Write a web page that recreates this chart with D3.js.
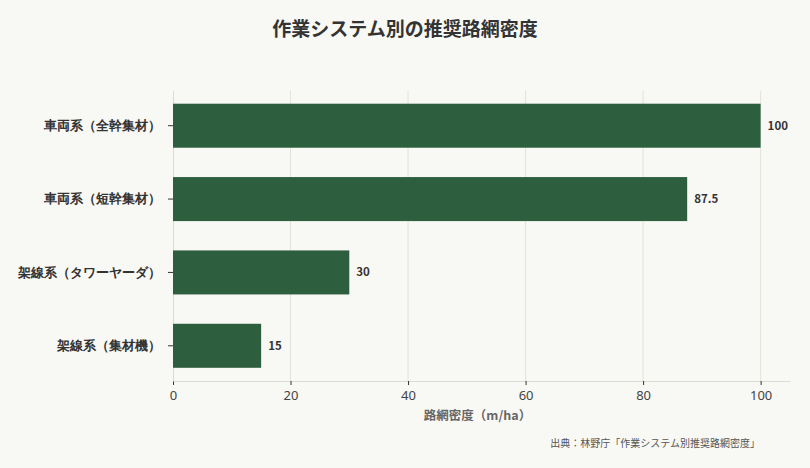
<!DOCTYPE html>
<html>
<head>
<meta charset="utf-8">
<script src="https://cdn.jsdelivr.net/npm/d3@7"></script>
<style>
  body { margin: 0; background: #f8f8f4; }
  svg { display: block; font-family: "Noto Sans CJK JP", "Noto Sans", sans-serif; }
</style>
</head>
<body>
<svg id="chart"></svg>
<script>
const categories = ['車両系（全幹集材）', '車両系（短幹集材）', '架線系（タワーヤーダ）', '架線系（集材機）']
const density = [100, 87.5, 30, 15]
const xTicks = [0, 20, 40, 60, 80, 100]

const width = 810, height = 468
const margin = {top: 90.5, right: 20, bottom: 87, left: 173}
const innerW = width - margin.left - margin.right
const innerH = height - margin.top - margin.bottom

const data = categories.map((c, i) => ({name: c, value: density[i]}))

const svg = d3.select('#chart')
  .attr('width', width)
  .attr('height', height)

svg.append('rect')
  .attr('width', width).attr('height', height)
  .attr('fill', '#f8f8f4')

const chart = svg.append('g')
  .attr('transform', `translate(${margin.left},${margin.top})`)

const xscale = d3.scaleLinear().domain([0, 105]).range([0, innerW])
const yscale = d3.scaleBand().domain(categories).range([0, innerH])
  .paddingInner(0.4).paddingOuter(0.18)

// グリッド
chart.append('g')
  .selectAll('line').data(xTicks.slice(1)).enter()
  .append('line')
  .attr('x1', d => xscale(d)).attr('x2', d => xscale(d))
  .attr('y1', 0).attr('y2', innerH)
  .attr('stroke', '#e2e2dc').attr('stroke-width', 1)

// x軸
const xaxis = chart.append('g')
  .attr('transform', `translate(0,${innerH})`)
  .call(d3.axisBottom(xscale).tickValues(xTicks).tickSize(4).tickSizeOuter(0))
xaxis.select('.domain').attr('stroke', '#dcdcd6')
xaxis.selectAll('.tick line').attr('stroke', '#333')
xaxis.selectAll('.tick text')
  .attr('font-size', 13).attr('fill', '#444').attr('dy', '0.95em')
  .style('font-family', '"Noto Sans", sans-serif')

// y軸
const yaxis = chart.append('g')
  .call(d3.axisLeft(yscale).tickSize(5).tickSizeOuter(0).tickPadding(7))
yaxis.select('.domain').attr('stroke', '#dcdcd6')
yaxis.selectAll('.tick line').attr('stroke', '#333')
yaxis.selectAll('.tick text')
  .attr('font-size', 13).attr('font-weight', 'bold').attr('fill', '#333')

// 棒
chart.append('g')
  .selectAll('rect').data(data).enter()
  .append('rect')
  .attr('x', 0)
  .attr('y', d => yscale(d.name))
  .attr('width', d => xscale(d.value))
  .attr('height', yscale.bandwidth())
  .attr('fill', '#2d5e3e')

// 値ラベル
chart.append('g')
  .selectAll('text').data(data).enter()
  .append('text')
  .attr('x', d => xscale(d.value) + 7)
  .attr('y', d => yscale(d.name) + yscale.bandwidth() / 2)
  .attr('dy', '0.35em')
  .attr('font-size', 11.5).attr('font-weight', 'bold').attr('fill', '#333')
  .text(d => d.value)

// タイトル
svg.append('text')
  .attr('x', width / 2).attr('y', 36)
  .attr('text-anchor', 'middle')
  .attr('font-size', 19).attr('font-weight', 'bold').attr('fill', '#333')
  .text('作業システム別の推奨路網密度')

// x軸タイトル
svg.append('text')
  .attr('x', margin.left + innerW / 2 - 4).attr('y', 420)
  .attr('text-anchor', 'middle')
  .attr('font-size', 12.5).attr('font-weight', 'bold').attr('fill', '#666')
  .text('路網密度（m/ha）')

// 出典
svg.append('text')
  .attr('x', 760).attr('y', 447)
  .attr('text-anchor', 'end')
  .attr('font-size', 10).attr('fill', '#555')
  .text('出典：林野庁「作業システム別推奨路網密度」')
</script>
</body>
</html>
